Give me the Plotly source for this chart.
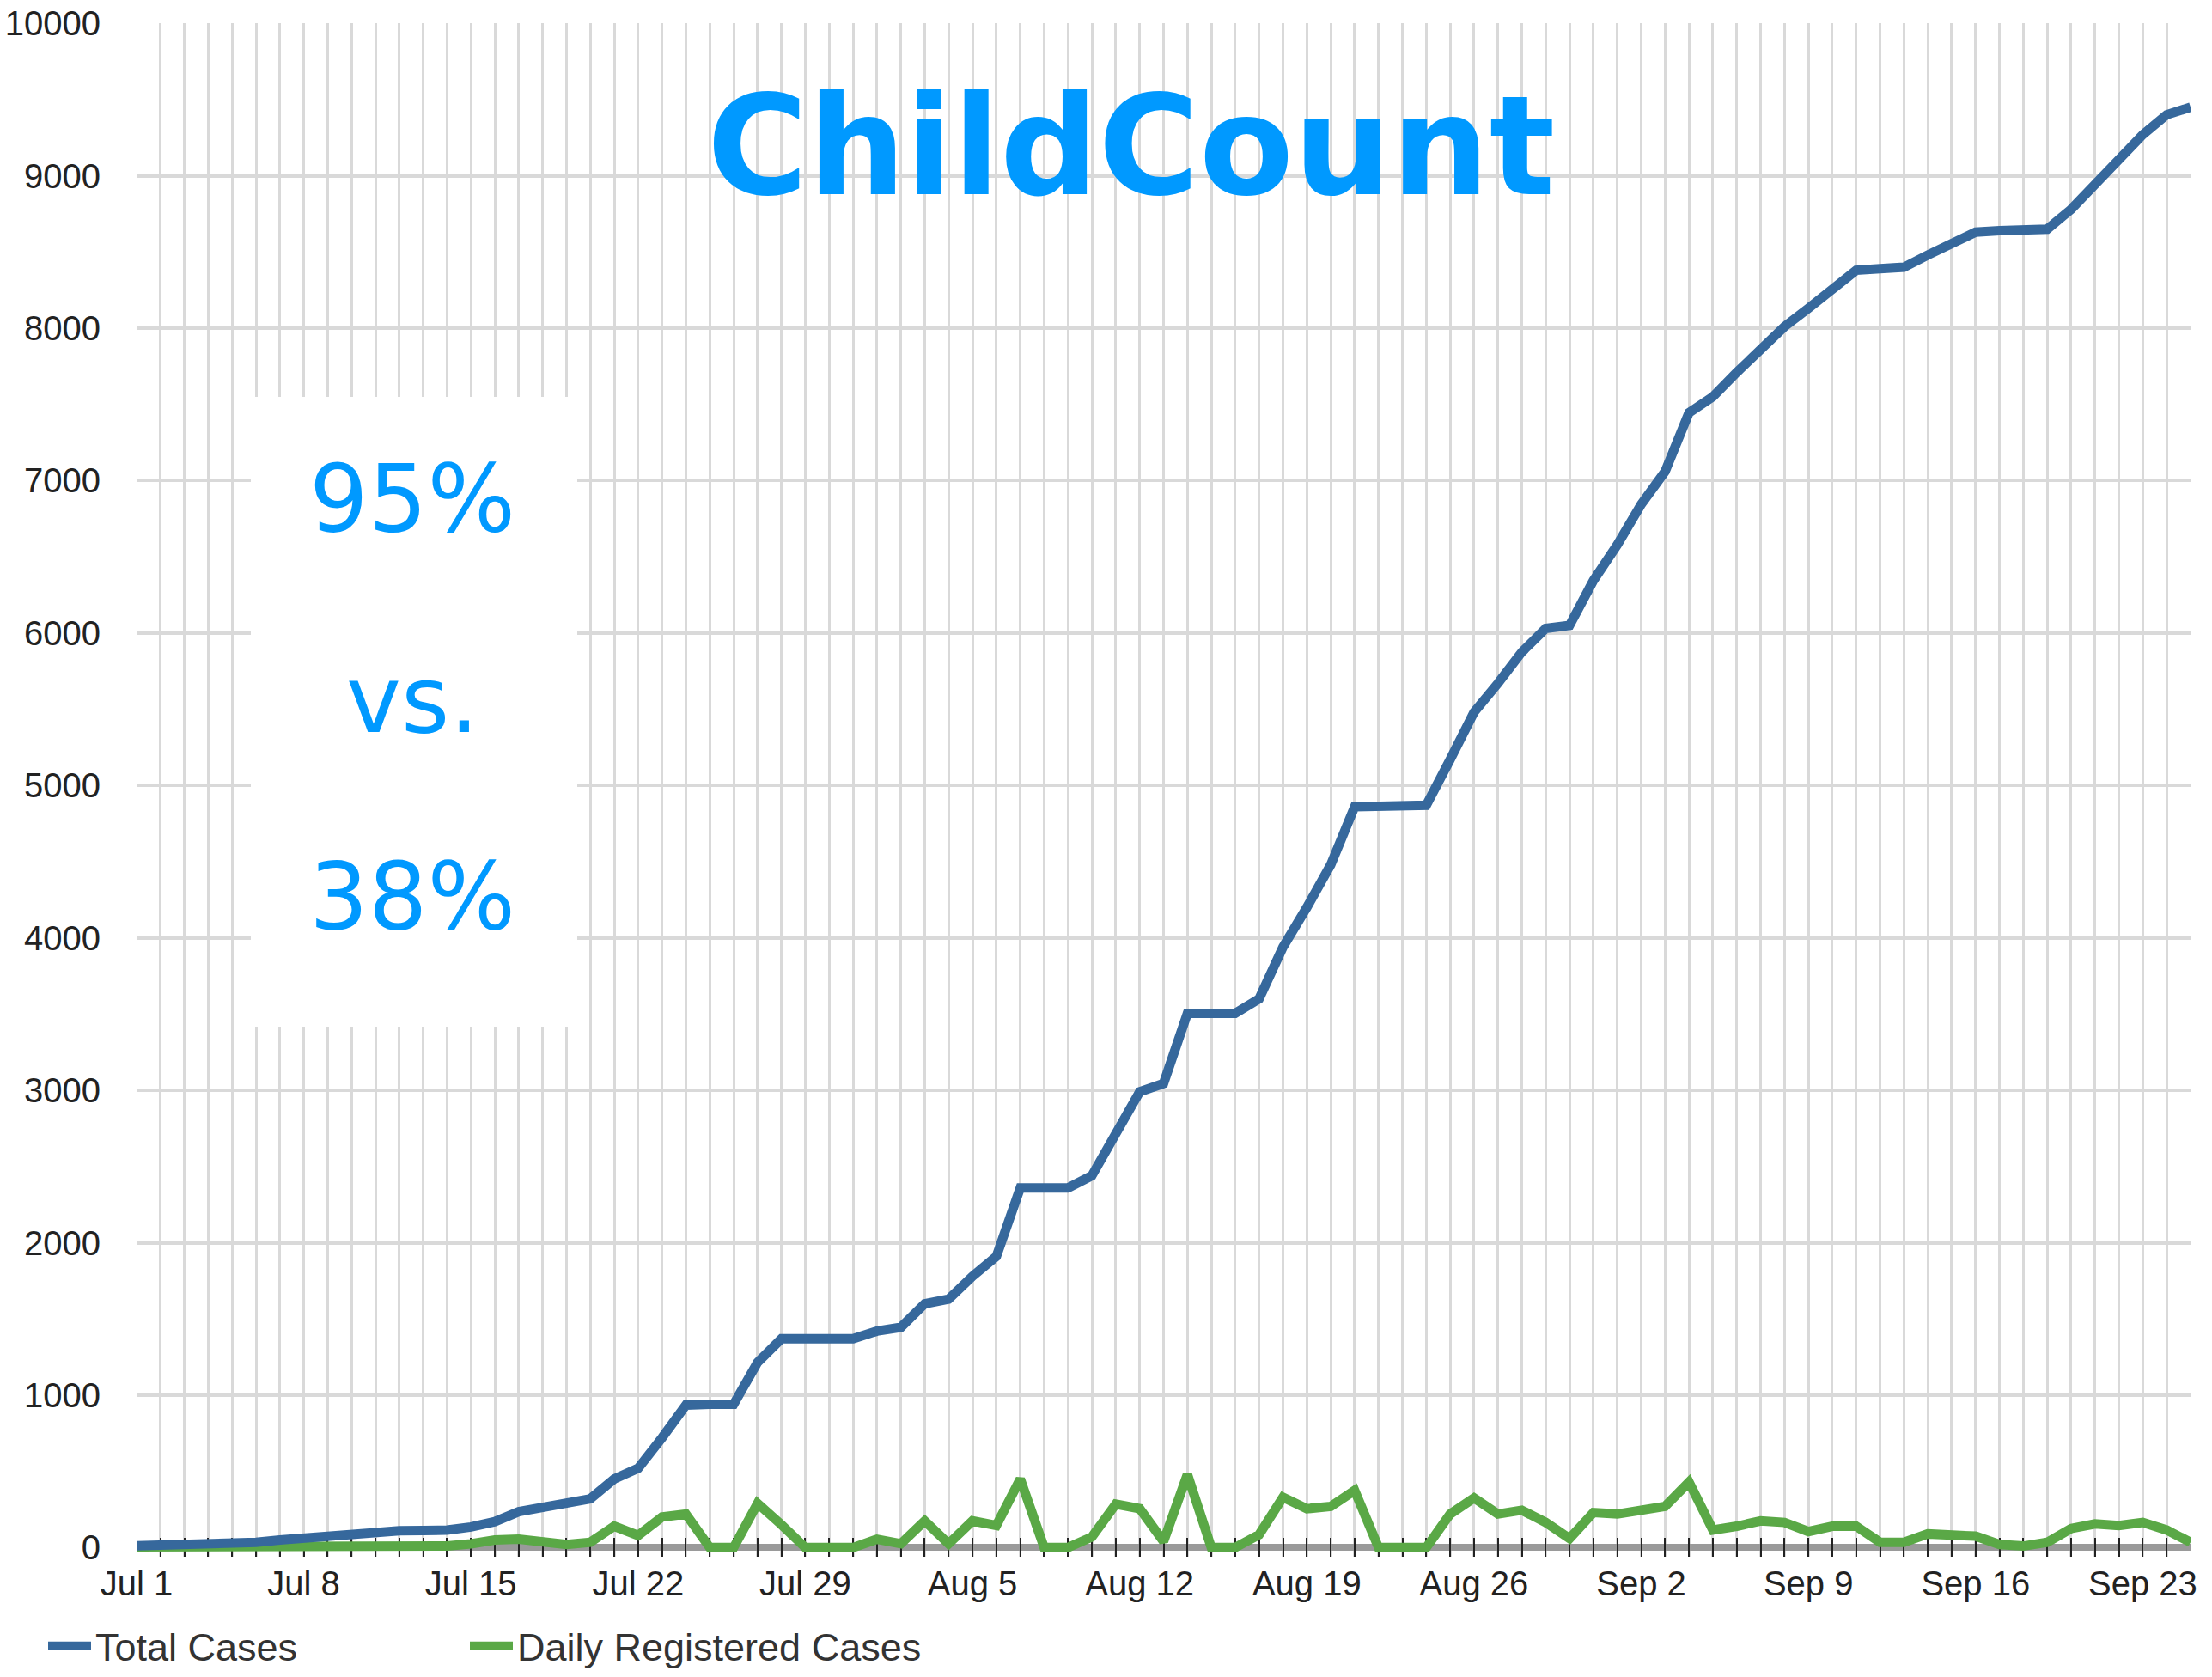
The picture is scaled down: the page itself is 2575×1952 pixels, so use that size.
import pandas as pd
import plotly.graph_objects as go

# ---- data ----
dates = pd.date_range("2009-07-01", "2009-09-25", freq="D")

total_cases = [
    # Jul 1-31
    12, 14, 16, 18, 22, 35, 50, 65, 80, 95, 105, 110, 112, 115, 135, 170, 235, 265, 285, 320,
    450, 520, 720, 935, 940, 940, 1215, 1370, 1370, 1370, 1370,
    # Aug 1-31
    1420, 1445, 1600, 1630, 1780, 1910, 2360, 2360, 2360, 2440, 2730, 2990, 3045, 3505, 3505,
    3505, 3600, 3940, 4200, 4480, 4860, 4860, 4860, 4870, 5170, 5480, 5670, 5875, 6030, 6050, 6345,
    # Sep 1-25
    6580, 6845, 7060, 7445, 7550, 7710, 7865, 8010, 8130, 8250, 8380, 8390, 8400, 8480, 8560,
    8630, 8640, 8640, 8650, 8780, 8950, 9120, 9270, 9400, 9450,
]

daily_registered = [
    # Jul 1-31
    5, 5, 5, 5, 5, 10, 15, 15, 15, 15, 10, 5, 5, 10, 25, 50, 55, 30, 20, 35,
    140, 80, 200, 220, 0, 0, 290, 150, 0, 0, 0,
    # Aug 1-31
    55, 25, 175, 25, 175, 145, 450, 0, 0, 70, 285, 255, 40, 480, 0,
    0, 85, 330, 255, 270, 375, 0, 0, 0, 220, 325, 220, 245, 165, 60, 230,
    # Sep 1-25
    220, 245, 270, 430, 115, 140, 175, 165, 105, 140, 140, 35, 35, 90, 90,
    75, 20, 10, 35, 125, 155, 145, 165, 115, 35,
]

title_text = "ChildCount"
overlay_lines = ["95%", "vs.", "38%"]

BLUE = "#36689C"
GREEN = "#5AA846"
ACCENT = "#0099FF"
GRID = "#D9D9D9"
DAY_MS = 86400000
SANS = "Liberation Sans, Arial, sans-serif"

# the page body adds an 8px margin: size the figure so it fits the window
OFF = 8
W, H = 2575 - 2 * OFF, 1952 - 2 * OFF
# plot area in window pixels: x 159..2550, y 27..1812
ml, mt = 159 - OFF, 27 - OFF
mr = W - (2550 - OFF)
mb = H - (1812 - OFF)
PW, PH = W - ml - mr, H - mt - mb


def px_to_paper(xp, yp):
    """window pixel -> paper fraction"""
    return (xp - OFF - ml) / PW, 1 - (yp - OFF - mt) / PH


fig = go.Figure()
fig.add_trace(go.Scatter(x=dates, y=daily_registered, name="Daily Registered Cases",
                         mode="lines", line=dict(color=GREEN, width=11), legend="legend2"))
fig.add_trace(go.Scatter(x=dates, y=total_cases, name="Total Cases",
                         mode="lines", line=dict(color=BLUE, width=11), legend="legend"))

_, leg_y = px_to_paper(0, 1916)
legend_common = dict(orientation="h", xref="paper", yref="paper",
                     xanchor="left", yanchor="middle", y=leg_y,
                     font=dict(size=45, color="#333", family=SANS), itemwidth=50,
                     bgcolor="rgba(0,0,0,0)")
fig.update_layout(
    width=W, height=H,
    margin=dict(l=ml, r=mr, t=mt, b=mb, autoexpand=False),
    paper_bgcolor="white", plot_bgcolor="white",
    font=dict(family=SANS, color="#222"),
    showlegend=True,
    legend=dict(x=px_to_paper(51, 0)[0], **legend_common),
    legend2=dict(x=px_to_paper(542, 0)[0], **legend_common),
)

fig.update_xaxes(
    type="date",
    range=[dates[0], dates[-1]],
    tick0=dates[0], dtick=7 * DAY_MS,
    tickformat="%b %-d",
    ticks="inside", ticklen=22, tickwidth=2, tickcolor="#222",
    showgrid=True, gridcolor=GRID, gridwidth=3,
    minor=dict(dtick=DAY_MS, tick0=dates[0], ticks="inside", ticklen=22,
               tickwidth=2, tickcolor="#222", showgrid=True,
               gridcolor=GRID, gridwidth=3),
    showline=False, zeroline=False, automargin=False,
    layer="below traces",
    tickfont=dict(size=40, color="#222"),
    ticklabelstandoff=4, ticklabeloverflow="allow",
)
fig.update_yaxes(
    range=[-60, 10001], tick0=0, dtick=1000, tickformat="d",
    showgrid=True, gridcolor=GRID, gridwidth=4,
    zeroline=True, zerolinecolor="#9A9A9A", zerolinewidth=8,
    showline=False, ticks="", automargin=False,
    tickfont=dict(size=40, color="#222"),
    ticklabelstandoff=41, ticklabeloverflow="allow",
)

# white panel behind the comparison text
bx0, by0 = px_to_paper(292, 1195)
bx1, by1 = px_to_paper(672, 462)
fig.add_shape(type="rect", xref="paper", yref="paper",
              x0=bx0, x1=bx1, y0=by0, y1=by1,
              fillcolor="white", line=dict(width=0), layer="above")

tx, ty = px_to_paper(1316, 170)
fig.add_annotation(x=tx, y=ty, xref="paper", yref="paper", text="<b>%s</b>" % title_text,
                   showarrow=False, xanchor="center", yanchor="middle",
                   font=dict(family="DejaVu Sans", size=160, color=ACCENT))

for txt, yp in zip(overlay_lines, [580, 814, 1043]):
    ax_, ay_ = px_to_paper(480, yp)
    fig.add_annotation(x=ax_, y=ay_, xref="paper", yref="paper", text=txt,
                       showarrow=False, xanchor="center", yanchor="middle",
                       font=dict(family="DejaVu Sans", size=108, color=ACCENT))

fig.write_html("out.html")
